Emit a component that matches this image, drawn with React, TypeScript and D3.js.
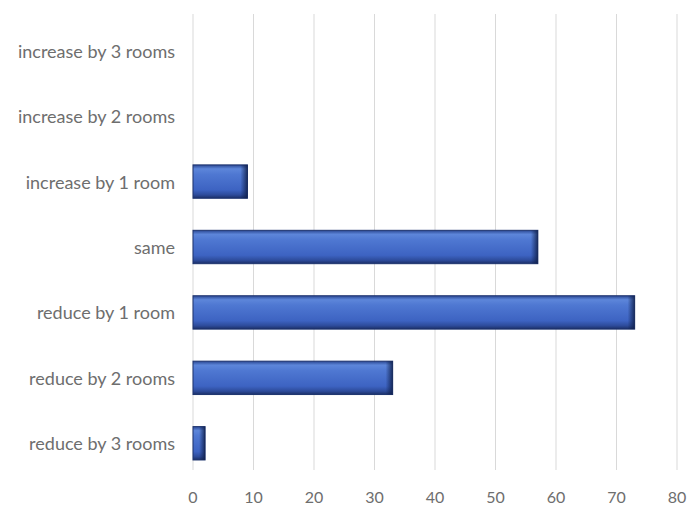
import React from "react";
import * as d3 from "d3";

const categories = [
  "increase by 3 rooms",
  "increase by 2 rooms",
  "increase by 1 room",
  "same",
  "reduce by 1 room",
  "reduce by 2 rooms",
  "reduce by 3 rooms",
];
const values = [0, 0, 9, 57, 73, 33, 2];
const ticks = [0, 10, 20, 30, 40, 50, 60, 70, 80];

const W = 690;
const H = 506;
const left = 193;
const right = 677;
const gridTop = 14;
const gridBottom = 470;

export default function App() {
  const x = d3.scaleLinear().domain([0, 80]).range([left, right]);
  const y = d3.scaleBand().domain(categories).range([18, 476]).paddingInner(0.49).paddingOuter(0.245);
  const font = "Lato, 'Open Sans', sans-serif";
  return (
    <svg width={W} height={H} style={{ position: "absolute", left: 0, top: 0, background: "#fff" }}>
      <defs>
        <linearGradient id="barV" x1="0" y1="0" x2="0" y2="1">
          <stop offset="0" stopColor="#2a4792" />
          <stop offset="0.12" stopColor="#5d86da" />
          <stop offset="0.28" stopColor="#4f78d2" />
          <stop offset="0.75" stopColor="#3d63c2" />
          <stop offset="0.9" stopColor="#2d4b9a" />
          <stop offset="1" stopColor="#1b2f66" />
        </linearGradient>
        <linearGradient id="barH" x1="0" y1="0" x2="1" y2="0">
          <stop offset="0" stopColor="#0f1f4a" stopOpacity="0" />
          <stop offset="1" stopColor="#0f1f4a" stopOpacity="0.85" />
        </linearGradient>
      </defs>
      {ticks.map((t) => (
        <line key={t} x1={x(t)} x2={x(t)} y1={gridTop} y2={gridBottom} stroke="#d9d9d9" strokeWidth={1} />
      ))}
      {categories.map((c, i) => {
        const v = values[i];
        if (v <= 0) return null;
        const x0 = x(0);
        const w = x(v) - x0;
        const yy = y(c)!;
        const h = y.bandwidth();
        const edge = Math.min(7, w * 0.5);
        return (
          <g key={c}>
            <rect x={x0} y={yy} width={w} height={h} fill="url(#barV)" stroke="#1d336e" strokeWidth={1} />
            <rect x={x0 + w - edge} y={yy} width={edge} height={h} fill="url(#barH)" />
          </g>
        );
      })}
      {categories.map((c) => (
        <text
          key={c}
          x={175}
          y={y(c)! + y.bandwidth() / 2}
          textAnchor="end"
          dominantBaseline="central"
          fontFamily={font}
          fontSize={18}
          fill="#6e6e6e"
        >
          {c}
        </text>
      ))}
      {ticks.map((t) => (
        <text
          key={t}
          x={x(t)}
          y={496}
          textAnchor="middle"
          dominantBaseline="central"
          fontFamily={font}
          fontSize={16}
          fill="#6e6e6e"
        >
          {t}
        </text>
      ))}
    </svg>
  );
}
